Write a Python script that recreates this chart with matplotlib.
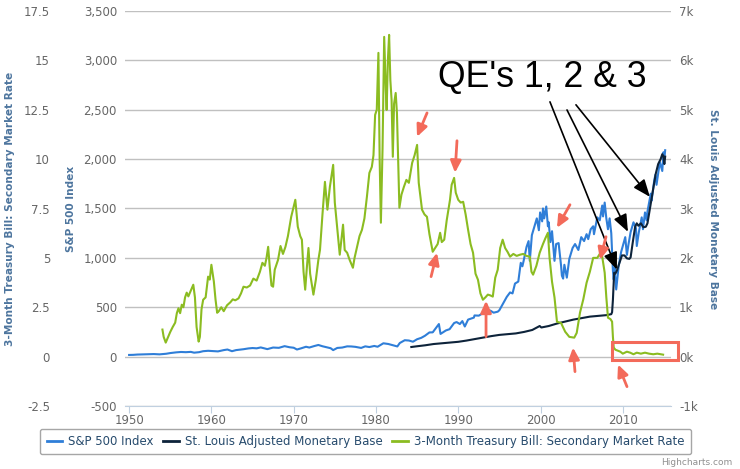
import matplotlib
matplotlib.use('Agg')
import matplotlib.pyplot as plt
from matplotlib.patches import Rectangle
from matplotlib.lines import Line2D

# S&P 500 index
sp_years = [1950.0, 1950.5, 1951.0, 1951.5, 1952.0, 1952.5, 1953.0, 1953.7, 1954.5, 1955.0,
            1955.7, 1956.3, 1956.9, 1957.5, 1957.9, 1958.5, 1959.0, 1959.6, 1960.3, 1960.8,
            1961.5, 1961.95, 1962.5, 1963.0, 1963.9, 1964.5, 1965.0, 1965.5, 1966.0, 1966.8,
            1967.5, 1968.2, 1968.9, 1969.5, 1970.0, 1970.4, 1970.9, 1971.5, 1971.9, 1972.5,
            1973.0, 1973.5, 1973.9, 1974.5, 1974.8, 1975.3, 1975.9, 1976.5, 1977.0, 1977.5,
            1978.2, 1978.7, 1979.2, 1979.8, 1980.2, 1980.9, 1981.5, 1982.0, 1982.6, 1982.9,
            1983.5, 1984.0, 1984.5, 1985.0, 1985.5, 1985.95, 1986.5, 1986.9, 1987.3, 1987.65,
            1987.85, 1988.5, 1988.95, 1989.5, 1989.8, 1990.2, 1990.5, 1990.8, 1991.2, 1991.9,
            1991.98, 1992.5, 1992.9, 1993.5, 1993.9, 1994.3, 1994.8, 1995.0, 1995.5, 1995.9,
            1996.3, 1996.6, 1996.9, 1997.3, 1997.6, 1997.8, 1997.95, 1998.3, 1998.55, 1998.7,
            1998.95, 1999.3, 1999.55, 1999.8, 1999.95, 2000.2, 2000.3, 2000.45, 2000.7, 2000.9,
            2001.0, 2001.2, 2001.4, 2001.7, 2001.9, 2002.2, 2002.5, 2002.6, 2002.75, 2002.9,
            2003.2, 2003.5, 2003.9, 2004.2, 2004.6, 2004.95, 2005.3, 2005.6, 2005.8, 2006.1,
            2006.4, 2006.5, 2006.9, 2007.2, 2007.5, 2007.6, 2007.8, 2008.0, 2008.2, 2008.4,
            2008.6, 2008.8, 2008.9, 2009.0, 2009.2, 2009.5, 2009.8, 2010.0, 2010.3, 2010.5,
            2010.7, 2010.95, 2011.3, 2011.6, 2011.7, 2011.95, 2012.3, 2012.45, 2012.7, 2012.9,
            2013.0, 2013.4, 2013.5, 2013.8, 2013.95, 2014.1, 2014.5, 2014.8, 2014.95, 2015.05,
            2015.15]
sp_values = [17, 18, 21, 22, 24, 25, 26, 23, 29, 36,
             43, 47, 45, 48, 40, 45, 55, 59, 55, 53,
             66, 72, 55, 66, 75, 83, 87, 84, 93, 76,
             92, 89, 106, 95, 90, 72, 84, 100, 92, 107,
             118, 105, 97, 85, 66, 88, 92, 104, 103, 99,
             88, 104, 97, 108, 100, 135, 128, 117, 103, 138,
             166, 163, 151, 176, 190, 211, 245, 246, 290, 330,
             230, 265, 278, 340, 350, 330, 360, 305, 375, 395,
             417, 415, 435, 450, 466, 445, 455, 470, 545, 605,
             650, 640, 740, 760, 950, 915, 970, 1110, 1170, 970,
             1230, 1330, 1400, 1280, 1460, 1370, 1500, 1400, 1520, 1320,
             1360, 1160, 1270, 970, 1140, 1150, 920, 820, 790, 930,
             800, 990, 1100, 1140, 1080, 1210, 1170, 1240, 1190, 1290,
             1320, 1240, 1410, 1380, 1530, 1420, 1560, 1400, 1290, 1400,
             1250, 870, 780, 900, 680, 920, 1060, 1120, 1210, 1030,
             1140, 1260, 1360, 1300, 1120, 1260, 1410, 1290, 1460, 1380,
             1470, 1650, 1580, 1770, 1840, 1740, 1970, 1880, 2070, 2000,
             2090]

# St. Louis adjusted monetary base (billions of dollars)
mb_years = [1984.3, 1985.0, 1986.0, 1987.0, 1988.0, 1989.0, 1990.0, 1991.0, 1992.0, 1993.0,
            1994.0, 1995.0, 1996.0, 1997.0, 1998.0, 1999.0, 1999.9, 2000.1, 2001.0, 2002.0,
            2003.0, 2004.0, 2005.0, 2006.0, 2007.0, 2008.0, 2008.6, 2008.7, 2008.8, 2008.95,
            2009.1, 2009.3, 2009.6, 2009.9, 2010.2, 2010.5, 2010.8, 2010.95, 2011.2, 2011.5,
            2011.7, 2011.9, 2012.2, 2012.5, 2012.8, 2013.0, 2013.2, 2013.5, 2013.8, 2014.0,
            2014.3, 2014.6, 2014.8, 2014.95, 2015.05, 2015.15]
mb_values = [195, 210, 230, 255, 270, 285, 300, 325, 355, 385,
             415, 440, 455, 470, 500, 540, 620, 590, 620, 670,
             710, 750, 780, 810, 825, 840, 860, 900, 1150, 1700,
             1680, 1750, 1900, 2050, 2050, 1990, 1980, 2010, 2300, 2630,
             2700, 2650, 2700, 2620, 2630, 2700, 2900, 3200, 3500, 3700,
             3900, 4000, 4100, 4050, 3900, 4050]

# 3-Month Treasury Bill: secondary market rate (%)
tb_years = [1954.05, 1954.2, 1954.45, 1954.7, 1955.0, 1955.3, 1955.6, 1955.8, 1956.0, 1956.2,
            1956.4, 1956.6, 1956.8, 1957.0, 1957.2, 1957.5, 1957.8, 1958.0, 1958.2, 1958.45,
            1958.6, 1958.8, 1959.0, 1959.3, 1959.6, 1959.8, 1960.0, 1960.3, 1960.5, 1960.7,
            1960.9, 1961.2, 1961.5, 1961.9, 1962.3, 1962.6, 1962.9, 1963.3, 1963.6, 1963.9,
            1964.3, 1964.7, 1965.1, 1965.5, 1965.9, 1966.2, 1966.5, 1966.7, 1966.9, 1967.1,
            1967.3, 1967.5, 1967.7, 1968.1, 1968.4, 1968.7, 1969.0, 1969.3, 1969.5, 1969.7,
            1970.0, 1970.2, 1970.5, 1970.8, 1971.0, 1971.2, 1971.4, 1971.6, 1971.8, 1972.0,
            1972.4, 1972.7, 1973.0, 1973.2, 1973.5, 1973.8, 1974.1, 1974.4, 1974.8, 1975.0,
            1975.2, 1975.6, 1976.0, 1976.2, 1976.5, 1976.8, 1977.2, 1977.4, 1977.7, 1978.0,
            1978.3, 1978.6, 1978.9, 1979.2, 1979.5, 1979.7, 1979.9, 1980.1, 1980.3, 1980.45,
            1980.6, 1980.8, 1981.0, 1981.2, 1981.3, 1981.45, 1981.6, 1981.75, 1981.9, 1982.05,
            1982.2, 1982.4, 1982.55, 1982.7, 1982.85, 1983.1, 1983.4, 1983.7, 1984.0, 1984.4,
            1984.7, 1985.0, 1985.2, 1985.6, 1985.9, 1986.2, 1986.5, 1986.9, 1987.2, 1987.5,
            1987.8, 1988.0, 1988.3, 1988.6, 1989.0, 1989.2, 1989.5, 1989.7, 1990.0, 1990.3,
            1990.6, 1990.9, 1991.2, 1991.5, 1991.8, 1992.1, 1992.4, 1992.7, 1993.0, 1993.3,
            1993.6, 1993.9, 1994.2, 1994.5, 1994.8, 1995.1, 1995.4, 1995.7, 1996.0, 1996.3,
            1996.7, 1997.1, 1997.5, 1997.9, 1998.3, 1998.7, 1998.9, 1999.1, 1999.5, 1999.9,
            2000.3, 2000.6, 2000.9, 2001.1, 2001.4, 2001.7, 2002.0, 2002.5, 2003.0, 2003.5,
            2004.1, 2004.4, 2004.8, 2005.2, 2005.6, 2006.0, 2006.4, 2006.9, 2007.2, 2007.5,
            2007.8, 2008.0, 2008.2, 2008.5, 2008.7, 2008.8, 2008.9, 2009.1, 2009.4, 2009.7,
            2010.0, 2010.5, 2010.9, 2011.3, 2011.7, 2012.2, 2012.7, 2013.2, 2013.7, 2014.2,
            2014.6, 2014.9]
tb_values = [1.37, 1.0, 0.71, 0.95, 1.25, 1.5, 1.72, 2.2, 2.45, 2.2,
             2.63, 2.5, 3.0, 3.24, 3.05, 3.35, 3.64, 3.0, 1.5, 0.76,
             1.0, 2.4, 2.88, 3.0, 4.05, 3.9, 4.65, 3.8, 2.9, 2.22,
             2.3, 2.5, 2.3, 2.6, 2.75, 2.9, 2.85, 2.95, 3.2, 3.54,
             3.5, 3.6, 3.95, 3.85, 4.3, 4.75, 4.6, 5.0, 5.56, 4.5,
             3.6, 3.54, 4.4, 4.9, 5.6, 5.2, 5.56, 6.1, 6.6, 7.08,
             7.6, 7.94, 6.58, 6.1, 5.92, 4.3, 3.39, 4.5, 5.5, 4.2,
             3.14, 3.9, 4.9, 5.41, 7.2, 8.85, 7.44, 8.6, 9.71, 7.8,
             6.93, 5.16, 6.68, 5.4, 5.26, 4.9, 4.5, 5.0, 5.56, 6.1,
             6.42, 7.0, 8.09, 9.3, 9.61, 10.2, 12.24, 12.5, 15.38, 10.0,
             6.78, 10.5, 16.19, 13.5, 12.49, 15.0, 16.29, 14.0, 13.0, 10.12,
             12.8, 13.35, 12.34, 10.0, 7.54, 8.2, 8.6, 8.95, 8.8, 9.81,
             10.2, 10.72, 8.8, 7.44, 7.2, 7.08, 6.2, 5.31, 5.5, 5.7,
             6.27, 5.8, 5.92, 6.9, 7.94, 8.7, 9.05, 8.3, 7.94, 7.8,
             7.84, 7.2, 6.42, 5.7, 5.26, 4.2, 3.89, 3.2, 2.88, 3.0,
             3.14, 3.1, 3.04, 4.0, 4.4, 5.5, 5.92, 5.5, 5.3, 5.06,
             5.2, 5.1, 5.16, 5.2, 5.1, 5.06, 4.3, 4.15, 4.6, 5.26,
             5.7, 6.0, 6.27, 5.0, 3.79, 3.0, 1.77, 1.7, 1.26, 1.0,
             0.96, 1.2, 2.23, 2.9, 3.74, 4.3, 5.0, 5.0, 5.2, 5.06,
             4.25, 3.0, 1.97, 1.9, 1.77, 1.0, 0.46, 0.35, 0.3, 0.25,
             0.15, 0.25, 0.2, 0.12, 0.2, 0.15, 0.2, 0.15, 0.12, 0.15,
             0.12, 0.1]

decades = [1950, 1960, 1970, 1980, 1990, 2000, 2010]
sp_ticks = [-500, 0, 500, 1000, 1500, 2000, 2500, 3000, 3500]
tb_ticks = [-2.5, 0, 2.5, 5, 7.5, 10, 12.5, 15, 17.5]
tb_labels = ['-2.5', '0', '2.5', '5', '7.5', '10', '12.5', '15', '17.5']
mb_ticks = [-1000, 0, 1000, 2000, 3000, 4000, 5000, 6000, 7000]
mb_labels = ['-1k', '0k', '1k', '2k', '3k', '4k', '5k', '6k', '7k']

c_sp, c_mb, c_tb = '#2f7ed8', '#0d233a', '#8bbc21'
title_c = '#4d759e'
tick_c = '#666666'
red = '#f36a5a'

W, H = 740, 469
fig = plt.figure(figsize=(W / 100, H / 100), dpi=100)
L, R, T, B = 125, 671, 11, 406
ax = fig.add_axes([L / W, 1 - B / H, (R - L) / W, (B - T) / H])
ax_mb = ax.twinx()
ax_tb = ax.twinx()

ax.plot(sp_years, sp_values, color=c_sp, lw=1.5)
ax_mb.plot(mb_years, mb_values, color=c_mb, lw=1.5)
ax_tb.plot(tb_years, tb_values, color=c_tb, lw=1.5)

ax.set_xlim(1949.5, 2015.86)
ax.set_ylim(-500, 3500)
ax_mb.set_ylim(-1000, 7000)
ax_tb.set_ylim(-2.5, 17.5)

for a in (ax, ax_mb, ax_tb):
    for s in a.spines.values():
        s.set_visible(False)
ax.spines['bottom'].set_visible(True)
ax.spines['bottom'].set_color('#C0D0E0')

ax.set_axisbelow(True)
ax.grid(axis='y', color='#C0C0C0', lw=1)
ax.set_xticks(decades)
ax.set_xticklabels([str(d) for d in decades])
ax.tick_params(axis='x', colors='#C0D0E0', length=5, labelcolor=tick_c, labelsize=8.5, pad=1)

ax.set_yticks(sp_ticks)
ax.set_yticklabels(['{:,}'.format(v) for v in sp_ticks])
ax.tick_params(axis='y', length=0, labelcolor=tick_c, labelsize=8.5, pad=5.8)

ax_tb.yaxis.tick_left()
ax_tb.set_yticks(tb_ticks)
ax_tb.set_yticklabels(tb_labels)
ax_tb.tick_params(axis='y', length=0, labelcolor=tick_c, labelsize=8.5, pad=54)

ax_mb.set_yticks(mb_ticks)
ax_mb.set_yticklabels(mb_labels)
ax_mb.tick_params(axis='y', length=0, labelcolor=tick_c, labelsize=8.5, pad=5.8)

ymid = 1 - 209 / H
fig.text(10 / W, ymid, '3-Month Treasury Bill: Secondary Market Rate', rotation=90,
         color=title_c, fontsize=7.6, fontweight='bold', ha='center', va='center')
fig.text(71 / W, ymid, 'S&P 500 Index', rotation=90,
         color=title_c, fontsize=7.6, fontweight='bold', ha='center', va='center')
fig.text(713 / W, ymid, 'St. Louis Adjusted Monetary Base', rotation=270,
         color=title_c, fontsize=7.6, fontweight='bold', ha='center', va='center')

# annotations, in T-bill units on the top axis
ax_tb.text(1987.55, 13.66, "QE's 1, 2 & 3", fontsize=25.7, family='Liberation Sans',
           color='black', va='baseline', ha='left')
qe_arrows = [((2001.15, 12.9), (2009.29, 4.4)),
             ((2003.22, 12.49), (2010.63, 6.32)),
             ((2004.31, 12.75), (2013.3, 8.09))]
for tail, head in qe_arrows:
    ax_tb.annotate('', xy=head, xytext=tail,
                   arrowprops=dict(arrowstyle='-|>,head_length=0.7,head_width=0.28',
                                   color='black', lw=1.2, mutation_scale=15,
                                   shrinkA=0, shrinkB=0))
red_arrows = [((1986.21, 12.34), (1984.99, 11.13)),
              ((1989.85, 10.93), (1989.61, 9.31)),
              ((1986.7, 4.05), (1987.42, 5.26)),
              ((1993.38, 1.01), (1993.38, 2.83)),
              ((2003.58, 7.69), (2002.0, 6.52)),
              ((2004.19, -0.76), (2003.95, 0.46)),
              ((2007.96, 6.07), (2007.23, 4.91)),
              ((2010.51, -1.52), (2009.42, -0.4))]
for tail, head in red_arrows:
    ax_tb.annotate('', xy=head, xytext=tail,
                   arrowprops=dict(arrowstyle='-|>,head_length=0.7,head_width=0.32',
                                   color=red, lw=2.0, mutation_scale=10,
                                   shrinkA=0, shrinkB=0))
ax_tb.add_patch(Rectangle((2008.69, -0.15), 8.0, 0.91, fill=False,
                          edgecolor=red, lw=2.2, clip_on=False, zorder=5))

handles = [Line2D([], [], color=c, lw=2) for c in (c_sp, c_mb, c_tb)]
labels = ['S&P 500 Index', 'St. Louis Adjusted Monetary Base',
          '3-Month Treasury Bill: Secondary Market Rate']
leg = fig.legend(handles, labels, loc='center', bbox_to_anchor=(365.5 / W, 1 - 441.5 / H),
                 ncol=3, fontsize=8.5, frameon=True, fancybox=True, handlelength=1.34,
                 handletextpad=0.5, columnspacing=0.8, borderpad=0.55, labelcolor='#274b6d')
leg.get_frame().set_edgecolor('#909090')
leg.get_frame().set_linewidth(1)

fig.text(732 / W, 1 - 462 / H, 'Highcharts.com', color='#909090', fontsize=6.5,
         ha='right', va='center')

fig.savefig('out.png', dpi=100)
